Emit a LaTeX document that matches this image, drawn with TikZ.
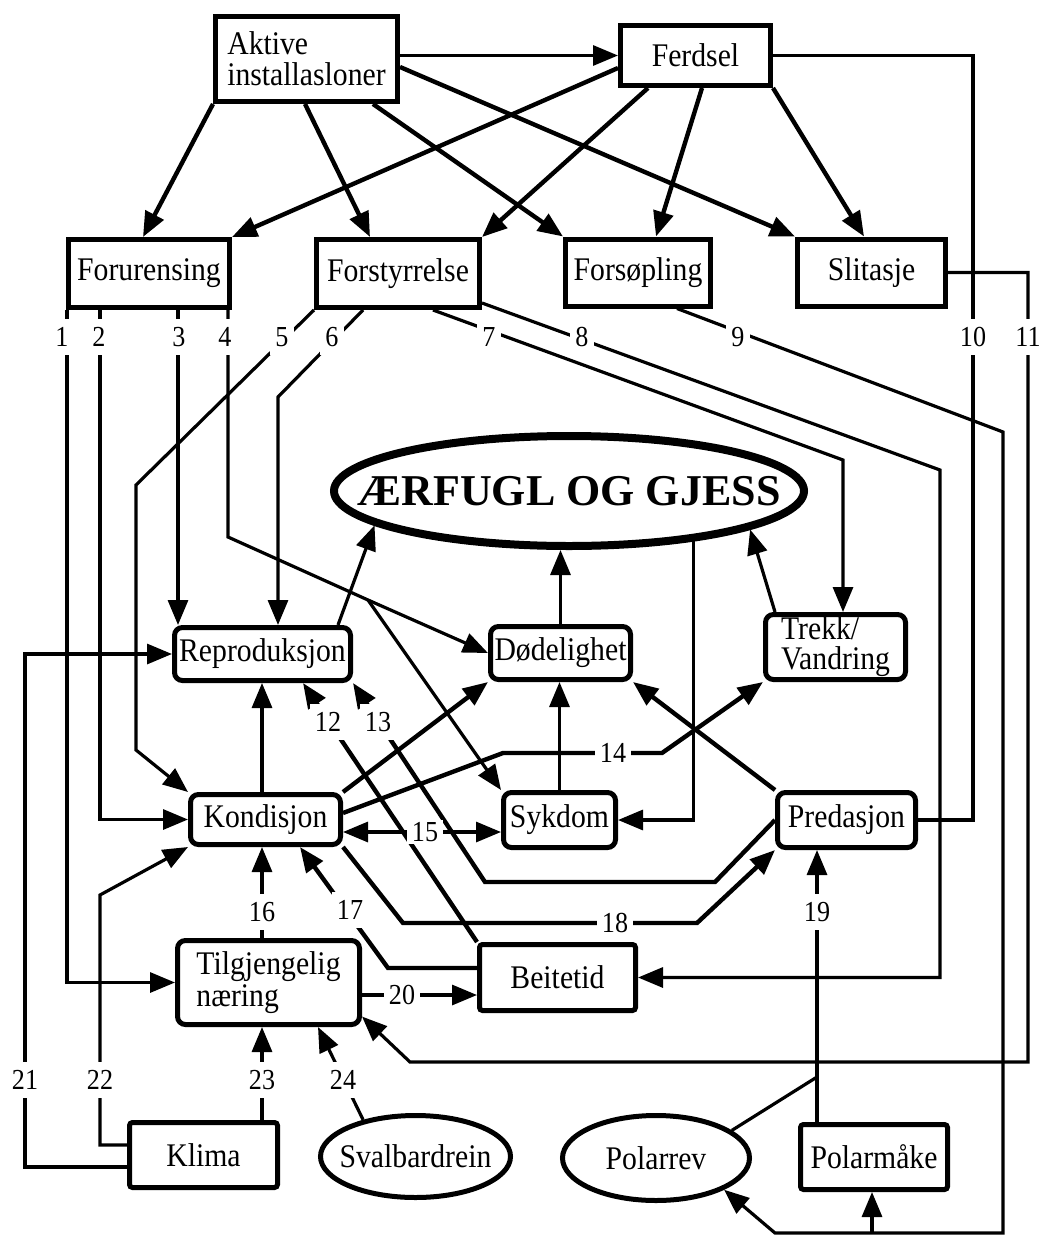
\documentclass[tikz,border=0pt]{standalone}
\usepackage{fontspec}
\setmainfont{Liberation Serif}[FakeStretch=0.9]
\newfontfamily\titlefont{Liberation Serif}
\usetikzlibrary{arrows.meta,shapes.geometric}

\begin{document}
\begin{tikzpicture}[x=0.5pt,y=-0.5pt,
  >={Triangle[length=12.5pt,width=10pt]},
  box/.style={draw,line width=2.5pt,inner sep=0pt,align=center,
    font=\fontsize{16.5}{15.5}\selectfont},
  rbox/.style={box,rounded corners=4pt},
  sbox/.style={box,rounded corners=1.5pt},
  oval/.style={draw,ellipse,line width=2.5pt,inner sep=0pt,
    font=\fontsize{16.5}{16}\selectfont},
  wire/.style={line width=1.6pt},
  bold/.style={line width=2.2pt},
  num/.style={fill=white,inner xsep=2.5pt,inner ysep=4pt,
    font=\fontsize{14.5}{15}\selectfont},
]
\fill[white] (0,0) rectangle (1056,1236);
\useasboundingbox (0,0) rectangle (1056,1236);

% ---- sources of disturbance ----
\node[box,minimum width=91pt,minimum height=42.5pt,align=left] (akt) at (306.5,59) {Aktive\\installasloner};
\node[box,minimum width=75pt,minimum height=30pt] (ferd) at (695.5,55.5) {Ferdsel};
\node[box,minimum width=80.5pt,minimum height=34pt] (foru) at (149,273.5) {Forurensing};
\node[box,minimum width=81.5pt,minimum height=34pt] (fors) at (398,273.5) {Forstyrrelse};
\node[box,minimum width=72.5pt,minimum height=33.5pt] (forso) at (638,272.5) {Forsøpling};
\node[box,minimum width=74pt,minimum height=33.5pt] (slit) at (871.5,272.5) {Slitasje};

% ---- central population ----
\node[oval,line width=4pt,minimum width=235pt,minimum height=55pt] (titl) at (569,491)
  {\makebox[0pt]{\titlefont\fontsize{22}{24}\selectfont\bfseries ÆRFUGL OG GJESS}};

% ---- population processes ----
\node[rbox,minimum width=88pt,minimum height=26.5pt] (repr) at (262.5,654) {Reproduksjon};
\node[rbox,minimum width=70pt,minimum height=26.5pt] (dod) at (560.5,653) {Dødelighet};
\node[rbox,minimum width=70pt,minimum height=32.5pt,align=left,font=\fontsize{16.5}{15}\selectfont] (trekk) at (835.5,647) {Trekk/\\Vandring};
\node[rbox,minimum width=75pt,minimum height=25pt] (kond) at (265.5,819.5) {Kondisjon};
\node[rbox,minimum width=56pt,minimum height=27.5pt] (syk) at (559.5,820) {Sykdom};
\node[rbox,minimum width=69pt,minimum height=27.5pt] (pred) at (846.5,820) {Predasjon};
\node[rbox,minimum width=91pt,minimum height=42pt,align=left,font=\fontsize{16.5}{16}\selectfont] (tilg) at (268.5,982.5) {Tilgjengelig\\næring};
\node[sbox,minimum width=78pt,minimum height=33pt] (beit) at (557.5,977.5) {Beitetid};

% ---- external factors ----
\node[sbox,minimum width=74pt,minimum height=32.5pt] (klima) at (203.5,1155) {Klima};
\node[oval,minimum width=95pt,minimum height=41pt] (sval) at (415.5,1156.5) {\makebox[0pt]{Svalbardrein}};
\node[oval,minimum width=93.5pt,minimum height=42.5pt] (polr) at (656,1158) {\makebox[0pt]{Polarrev}};
\node[sbox,minimum width=73.5pt,minimum height=32.5pt] (polm) at (874,1157) {Polarmåke};

% ---- top level arrows ----
\draw[wire,->] (akt.east |- ferd.west) -- (ferd.west);
\draw[bold,->] (akt.south west) -- (foru.north -| 143,0);
\draw[bold,->] (akt.south -| 305,0) -- (fors.north -| 370,0);
\draw[bold,->] (akt.south -| 373,0) -- (forso.north west);
\draw[bold,->] (akt.east |- 0,67) -- (slit.north west);
\draw[bold,->] (ferd.west |- 0,68) -- (foru.north east);
\draw[bold,->] (ferd.south -| 648,0) -- (fors.north east);
\draw[bold,->] (ferd.south -| 702,0) -- (forso.north -| 656,0);
\draw[bold,->] (ferd.south east) -- (slit.north -| 864,0);

% ---- numbered effect lines 1-11 ----
\draw[wire,->] (foru.south -| 67,0) |- (tilg.west);
\draw[wire,->] (foru.south -| 100,0) |- (kond.west);
\draw[wire,->] (foru.south -| 178,0) -- (repr.north -| 178,0);
\coordinate (j4) at (368,600);
\draw[wire,->] (foru.south -| 228,0) -- (228,537) -- (j4) -- (dod.west);
\draw[wire,->] (j4) -- (syk.north west);
\draw[wire,->] (fors.south west) -- (136,485) -- (136,750) -- (kond.north west);
\draw[wire,->] (fors.south -| 363,0) -- (278,397) -- (repr.north -| 278,0);
\draw[wire,->] (fors.south -| 433,0) -- (843,460) -- (trekk.north -| 843,0);
\draw[wire,->] (fors.east |- 0,303) -- (940,470) |- (beit.east);
\coordinate (j9) at (872,1233);
\draw[wire,->] (forso.south -| 677,0) -- (1003,432) -- (1003,1233) -- (775,1233) -- (polr.-25);
\draw[wire,->] (j9) -- (polm.south -| j9);
\draw[wire] (ferd.east) -| (pred.east -| 973,0) -- (pred.east);
\draw[wire,->] (slit.east) -| (1028,1062) -- (410,1062) -- (tilg.-20);

% ---- effects on the population ----
\draw[wire,->] (repr.north -| 338,0) -- (titl.190);
\draw[wire,->] (dod.north) -- (dod.north |- titl.south);
\draw[wire,->] (trekk.north -| 775,0) -- (titl.-12);
\draw[wire,->] (titl.-22.5) |- (syk.east);

% ---- interactions between processes ----
\draw[wire,->] (kond.north -| 262,0) -- (repr.south -| 262,0);
\draw[bold,->] (kond.north east) -- (dod.south west);
\draw[bold,->] (kond.east |- 0,813) -- (503,753) -- (662,753) -- (trekk.south west);
\draw[wire,->] (syk.north) -- (syk.north |- dod.south);
\draw[bold,->] (pred.north west) -- (dod.south east);
\draw[wire,<->] (kond.east |- 0,832) -- (syk.west |- 0,832);
\draw[bold,->] (beit.north west) -- (repr.south -| 303,0);
\draw[bold,->] (pred.west) -- (715,882) -- (485,882) -- (repr.south east);
\draw[bold,->] (kond.south east) -- (403,923) -- (697,923) -- (pred.south west);
\draw[bold,->] (beit.west |- 0,968) -- (388,968) -- (kond.south -| 300,0);
\draw[wire,->] (tilg.north -| 262,0) -- (kond.south -| 262,0);
\draw[wire,->] (tilg.east |- 0,995) -- (beit.west |- 0,995);
\coordinate (j19) at (817,1077);
\draw[wire,->] (polm.north -| 817,0) -- (pred.south -| 817,0);
\draw[wire] (polr.20) -- (j19);
\draw[wire,->] (klima.west |- 0,1167) -| (repr.west -| 25,0) -- (repr.west);
\draw[wire,->] (klima.west |- 0,1145) -| (100,895) -- (kond.south west);
\draw[wire,->] (klima.north -| 262,0) -- (tilg.south -| 262,0);
\draw[wire,->] (sval.145) -- (tilg.south -| 318,0);

% ---- line numbers ----
\node[num] (l1) at (62,337) {1};
\node[num] (l2) at (99,337) {2};
\node[num] (l3) at (179,337) {3};
\node[num] (l4) at (225,337) {4};
\node[num] (l5) at (282,337) {5};
\node[num] (l6) at (332,337) {6};
\node[num] (l7) at (489,337) {7};
\node[num] (l8) at (582,337) {8};
\node[num] (l9) at (738,337) {9};
\node[num] (l10) at (973,337) {10};
\node[num] (l11) at (1028,337) {11};
\node[num] (l12) at (328,722) {12};
\node[num] (l13) at (378,722) {13};
\node[num] (l14) at (613,753) {14};
\node[num,inner ysep=1pt] (l15) at (425,832) {15};
\node[num] (l16) at (262,912) {16};
\node[num] (l17) at (350,910) {17};
\node[num] (l18) at (615,923) {18};
\node[num] (l19) at (817,912) {19};
\node[num] (l20) at (402,995) {20};
\node[num] (l21) at (25,1080) {21};
\node[num] (l22) at (100,1080) {22};
\node[num] (l23) at (262,1080) {23};
\node[num] (l24) at (343,1080) {24};
\end{tikzpicture}
\end{document}
